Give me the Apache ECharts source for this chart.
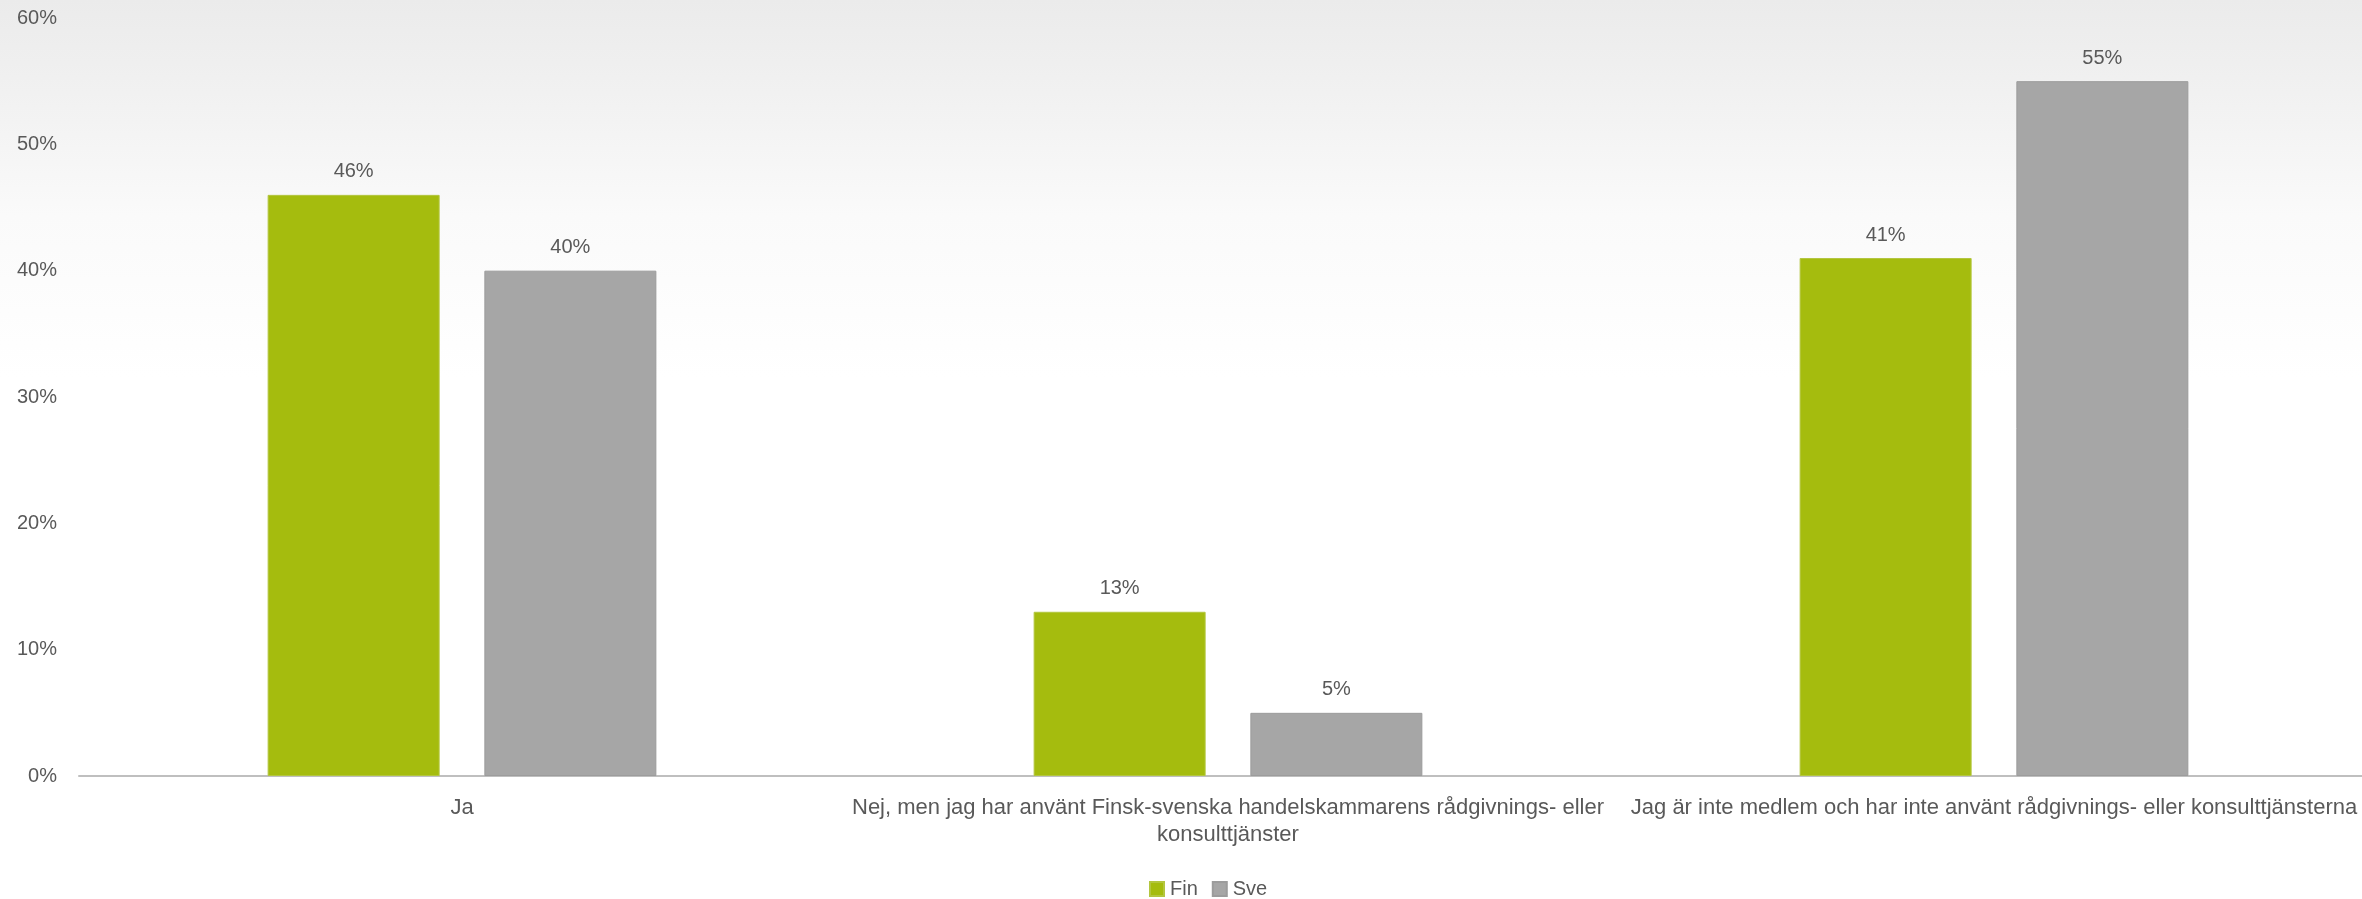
<!DOCTYPE html>
<html>
<head>
<meta charset="utf-8">
<title>Rådgivnings- och konsulttjänster</title>
<script src="https://cdn.jsdelivr.net/npm/echarts@6/dist/echarts.min.js"></script>
<style>
  html, body { margin: 0; padding: 0; background: #ffffff; overflow: hidden; }
  /* the plot runs slightly past the right edge of the window */
  #chart { width: 2377px; height: 899px; }
</style>
</head>
<body>
<div id="chart"></div>
<script>
// Answer categories (x axis)
const categories = [
  'Ja',
  'Nej, men jag har använt Finsk-svenska handelskammarens rådgivnings- eller\nkonsulttjänster',
  'Jag är inte medlem och har inte använt rådgivnings- eller konsulttjänsterna'
];

// Share of respondents, percent
const seriesNames = ['Fin', 'Sve'];
const finValues = [46, 13, 41];
const sveValues = [40, 5, 55];

// Value axis ticks
const yTicks = [0, 10, 20, 30, 40, 50, 60];

const FONT = 'Liberation Sans, Arial, sans-serif';
const TEXT = '#595959';

const chart = echarts.init(document.getElementById('chart'), null, { renderer: 'canvas' });

const labelStyle = {
  show: true,
  position: 'top',
  distance: 13,
  formatter: p => p.value + '%',
  color: TEXT,
  fontFamily: FONT,
  fontSize: 20
};

chart.setOption({
  animation: false,
  backgroundColor: {
    type: 'linear', x: 0, y: 0, x2: 0, y2: 1,
    colorStops: [
      { offset: 0, color: '#ebebeb' },
      { offset: 0.12, color: '#f2f2f2' },
      { offset: 0.24, color: '#fafafa' },
      { offset: 0.42, color: '#ffffff' },
      { offset: 1, color: '#ffffff' }
    ]
  },
  textStyle: { fontFamily: FONT },
  grid: { left: 79, right: 0, top: 18, bottom: 123, containLabel: false },
  legend: {
    data: seriesNames,
    left: 1149,
    top: 879,
    padding: 0,
    itemWidth: 14,
    itemHeight: 14,
    itemGap: 14,
    icon: 'rect',
    textStyle: { color: TEXT, fontFamily: FONT, fontSize: 20, padding: [0, 0, 0, 1] }
  },
  xAxis: {
    type: 'category',
    data: categories,
    axisLine: { show: true, lineStyle: { color: '#bfbfbf', width: 2 } },
    axisTick: { show: false },
    axisLabel: {
      interval: 0,
      margin: 18,
      color: TEXT,
      fontFamily: FONT,
      fontSize: 22,
      lineHeight: 27,
      align: 'center'
    }
  },
  yAxis: {
    type: 'value',
    min: yTicks[0],
    max: yTicks[yTicks.length - 1],
    interval: yTicks[1] - yTicks[0],
    axisLine: { show: false },
    axisTick: { show: false },
    splitLine: { show: false },
    axisLabel: {
      margin: 22,
      color: TEXT,
      fontFamily: FONT,
      fontSize: 20,
      formatter: '{value}%'
    }
  },
  series: [
    {
      name: seriesNames[0],
      type: 'bar',
      data: finValues,
      barWidth: 172,
      barGap: '26%',
      itemStyle: { color: '#a5bc0e', borderColor: '#b3c63f', borderWidth: 1 },
      label: labelStyle
    },
    {
      name: seriesNames[1],
      type: 'bar',
      data: sveValues,
      barWidth: 172,
      barGap: '26%',
      itemStyle: { color: '#a6a6a6', borderColor: '#9c9c9c', borderWidth: 1 },
      label: labelStyle
    }
  ]
});
</script>
</body>
</html>
